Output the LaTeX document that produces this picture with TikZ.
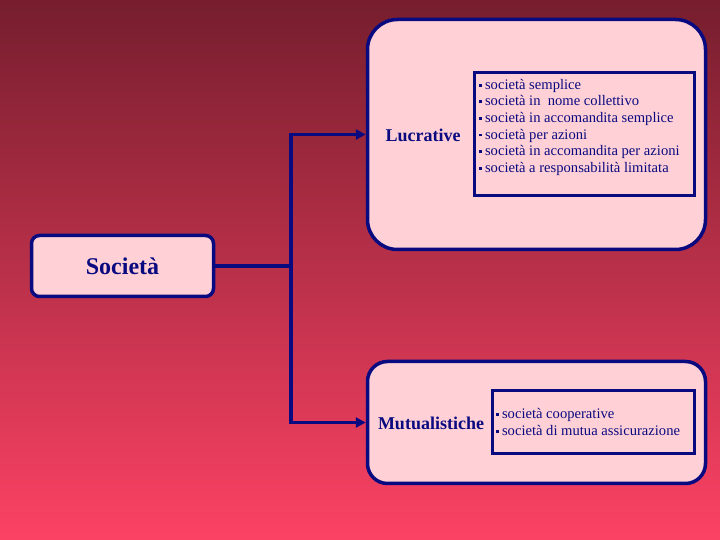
\documentclass[tikz,border=0pt]{standalone}
\usepackage{fontspec}
\setmainfont{Liberation Serif}
\usetikzlibrary{arrows.meta}
\definecolor{navy}{RGB}{10,10,128}
\definecolor{pinkfill}{RGB}{255,208,214}
\definecolor{bgtop}{RGB}{118,30,46}
\definecolor{bgbot}{RGB}{252,66,100}
\newcommand{\blt}{\raisebox{0.4ex}{\rule{0.2em}{0.2em}}\hspace{0.2em}}
\tikzset{
  box/.style={draw=navy, line width=3.5pt, fill=pinkfill, rounded corners=#1, inner sep=0pt},
  inner/.style={draw=navy, line width=3.5pt, inner sep=0pt},
  head/.style={text=navy, font=\bfseries\fontsize{18}{20}\selectfont, inner sep=0pt},
  list/.style={text=navy, font=\fontsize{14.6}{16.6}\selectfont, align=left, inner sep=0pt, anchor=north west},
  conn/.style={draw=navy, line width=3.5pt},
  arr/.style={conn, -{Triangle[length=10pt,width=10pt]}}
}
\begin{document}
\begin{tikzpicture}[x=1pt,y=1pt]
\useasboundingbox (0,0) rectangle (720,540);
\shade[top color=bgtop, bottom color=bgbot] (0,0) rectangle (720,540);
% Società
\node[box=8pt, minimum width=182pt, minimum height=61pt] (soc) at (122.5,274) {};
\node[text=navy, font=\bfseries\fontsize{24}{26}\selectfont] (soct) at (soc.center) {Società};
% Lucrative
\node[box=30pt, minimum width=338pt, minimum height=230pt] (luc) at (536.5,405.5) {};
\node[inner, minimum width=220pt, minimum height=123pt] (lucin) at (584.5,406) {};
\node[head] (luct) at (423,405) {Lucrative};
\node[list] (lucl) at (479,461) {\blt società semplice\\ \blt società in\ \ nome collettivo\\ \blt società in accomandita semplice\\ \blt società per azioni\\ \blt società in accomandita per azioni\\ \blt società a responsabilità limitata};
% Mutualistiche
\node[box=20pt, minimum width=338pt, minimum height=122pt] (mut) at (536.5,117.5) {};
\node[inner, minimum width=202pt, minimum height=63pt] (mutin) at (593.5,118) {};
\node[head] (mutt) at (431,117) {Mutualistiche};
\node[list, font=\fontsize{14.6}{17.5}\selectfont] (mutl) at (496,132) {\blt società cooperative\\ \blt società di mutua assicurazione};
% connectors
\coordinate (j) at (291,274);
\draw[conn] (soc.east) -- (j);
\draw[arr] (j) |- (luc.west);
\draw[arr] (j) |- (mut.west);
\end{tikzpicture}
\end{document}
